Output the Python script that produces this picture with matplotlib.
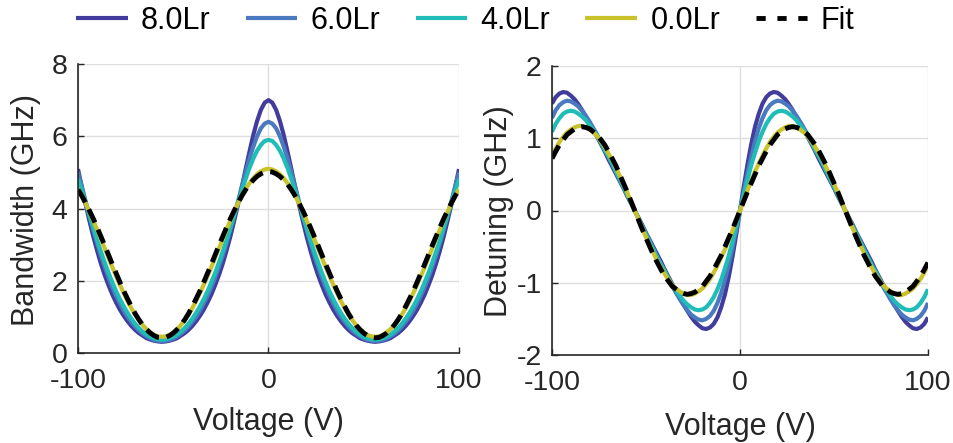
import numpy as np
import matplotlib
matplotlib.use('Agg')
import matplotlib.pyplot as plt
from matplotlib.lines import Line2D

plt.rcParams['font.family'] = ['Liberation Sans', 'DejaVu Sans']
plt.rcParams['axes.unicode_minus'] = False

# voltage sweep (V), -100 .. 100 in 2 V steps
voltage = np.arange(-100, 101, 2)

labels = ['8.0Lr', '6.0Lr', '4.0Lr', '0.0Lr']
colors = ['#423c9c', '#4a79c0', '#1fbdb6', '#c9c22a']

# bandwidth (GHz)
bw_8 = [5.09, 4.59, 4.11, 3.66, 3.23, 2.84, 2.48, 2.16, 1.88, 1.62,
        1.40, 1.20, 1.03, 0.88, 0.75, 0.64, 0.55, 0.48, 0.41, 0.37,
        0.34, 0.32, 0.31, 0.32, 0.34, 0.37, 0.41, 0.48, 0.55, 0.64,
        0.75, 0.88, 1.03, 1.20, 1.40, 1.62, 1.88, 2.16, 2.48, 2.84,
        3.23, 3.66, 4.11, 4.59, 5.09, 5.57, 6.03, 6.42, 6.73, 6.93,
        7.00,
        6.93, 6.73, 6.42, 6.03, 5.57, 5.09, 4.59, 4.11, 3.66, 3.23,
        2.84, 2.48, 2.16, 1.88, 1.62, 1.40, 1.20, 1.03, 0.88, 0.75,
        0.64, 0.55, 0.48, 0.41, 0.37, 0.34, 0.32, 0.31, 0.32, 0.34,
        0.37, 0.41, 0.48, 0.55, 0.64, 0.75, 0.88, 1.03, 1.20, 1.40,
        1.62, 1.88, 2.16, 2.48, 2.84, 3.23, 3.66, 4.11, 4.59, 5.09]
bw_6 = [5.00, 4.61, 4.20, 3.80, 3.42, 3.05, 2.70, 2.39, 2.09, 1.82,
        1.58, 1.37, 1.17, 1.00, 0.86, 0.73, 0.62, 0.53, 0.46, 0.40,
        0.36, 0.34, 0.33, 0.34, 0.36, 0.40, 0.46, 0.53, 0.62, 0.73,
        0.86, 1.00, 1.17, 1.37, 1.58, 1.82, 2.09, 2.39, 2.70, 3.05,
        3.42, 3.80, 4.20, 4.61, 5.00, 5.38, 5.71, 6.00, 6.22, 6.35,
        6.40,
        6.35, 6.22, 6.00, 5.71, 5.38, 5.00, 4.61, 4.20, 3.80, 3.42,
        3.05, 2.70, 2.39, 2.09, 1.82, 1.58, 1.37, 1.17, 1.00, 0.86,
        0.73, 0.62, 0.53, 0.46, 0.40, 0.36, 0.34, 0.33, 0.34, 0.36,
        0.40, 0.46, 0.53, 0.62, 0.73, 0.86, 1.00, 1.17, 1.37, 1.58,
        1.82, 2.09, 2.39, 2.70, 3.05, 3.42, 3.80, 4.20, 4.61, 5.00]
bw_4 = [4.82, 4.49, 4.16, 3.81, 3.47, 3.13, 2.81, 2.51, 2.22, 1.96,
        1.71, 1.49, 1.29, 1.11, 0.95, 0.81, 0.69, 0.59, 0.51, 0.45,
        0.41, 0.38, 0.37, 0.38, 0.41, 0.45, 0.51, 0.59, 0.69, 0.81,
        0.95, 1.11, 1.29, 1.49, 1.71, 1.96, 2.22, 2.51, 2.81, 3.13,
        3.47, 3.81, 4.16, 4.49, 4.82, 5.12, 5.38, 5.60, 5.76, 5.87,
        5.90,
        5.87, 5.76, 5.60, 5.38, 5.12, 4.82, 4.49, 4.16, 3.81, 3.47,
        3.13, 2.81, 2.51, 2.22, 1.96, 1.71, 1.49, 1.29, 1.11, 0.95,
        0.81, 0.69, 0.59, 0.51, 0.45, 0.41, 0.38, 0.37, 0.38, 0.41,
        0.45, 0.51, 0.59, 0.69, 0.81, 0.95, 1.11, 1.29, 1.49, 1.71,
        1.96, 2.22, 2.51, 2.81, 3.13, 3.47, 3.81, 4.16, 4.49, 4.82]
bw_0 = [4.54, 4.35, 4.14, 3.91, 3.67, 3.42, 3.16, 2.90, 2.64, 2.38,
        2.13, 1.89, 1.66, 1.44, 1.24, 1.06, 0.91, 0.77, 0.66, 0.57,
        0.50, 0.46, 0.45, 0.46, 0.50, 0.57, 0.66, 0.77, 0.91, 1.06,
        1.24, 1.44, 1.66, 1.89, 2.13, 2.38, 2.64, 2.90, 3.16, 3.42,
        3.67, 3.91, 4.14, 4.35, 4.54, 4.70, 4.84, 4.95, 5.03, 5.08,
        5.10,
        5.08, 5.03, 4.95, 4.84, 4.70, 4.54, 4.35, 4.14, 3.91, 3.67,
        3.42, 3.16, 2.90, 2.64, 2.38, 2.13, 1.89, 1.66, 1.44, 1.24,
        1.06, 0.91, 0.77, 0.66, 0.57, 0.50, 0.46, 0.45, 0.46, 0.50,
        0.57, 0.66, 0.77, 0.91, 1.06, 1.24, 1.44, 1.66, 1.89, 2.13,
        2.38, 2.64, 2.90, 3.16, 3.42, 3.67, 3.91, 4.14, 4.35, 4.54]
bw_fit = [4.52, 4.35, 4.15, 3.94, 3.72, 3.48, 3.23, 2.98, 2.72, 2.46,
          2.21, 1.96, 1.72, 1.50, 1.29, 1.09, 0.92, 0.77, 0.65, 0.55,
          0.48, 0.43, 0.42, 0.43, 0.48, 0.55, 0.65, 0.77, 0.92, 1.09,
          1.29, 1.50, 1.72, 1.96, 2.21, 2.46, 2.72, 2.98, 3.23, 3.48,
          3.72, 3.94, 4.15, 4.35, 4.52, 4.67, 4.79, 4.89, 4.96, 5.01,
          5.02,
          5.01, 4.96, 4.89, 4.79, 4.67, 4.52, 4.35, 4.15, 3.94, 3.72,
          3.48, 3.23, 2.98, 2.72, 2.46, 2.21, 1.96, 1.72, 1.50, 1.29,
          1.09, 0.92, 0.77, 0.65, 0.55, 0.48, 0.43, 0.42, 0.43, 0.48,
          0.55, 0.65, 0.77, 0.92, 1.09, 1.29, 1.50, 1.72, 1.96, 2.21,
          2.46, 2.72, 2.98, 3.23, 3.48, 3.72, 3.94, 4.15, 4.35, 4.52]

# detuning (GHz)
dt_8 = [1.48, 1.57, 1.62, 1.64, 1.63, 1.59, 1.54, 1.47, 1.39, 1.30,
        1.21, 1.11, 1.02, 0.92, 0.82, 0.71, 0.61, 0.51, 0.41, 0.31,
        0.20, 0.10, 0.00, -0.10, -0.20, -0.31, -0.41, -0.51, -0.61, -0.71,
        -0.82, -0.92, -1.02, -1.11, -1.21, -1.30, -1.39, -1.47, -1.54, -1.59,
        -1.63, -1.64, -1.62, -1.57, -1.48, -1.34, -1.16, -0.92, -0.64, -0.33,
        0.00,
        0.33, 0.64, 0.92, 1.16, 1.34, 1.48, 1.57, 1.62, 1.64, 1.63,
        1.59, 1.54, 1.47, 1.39, 1.30, 1.21, 1.11, 1.02, 0.92, 0.82,
        0.71, 0.61, 0.51, 0.41, 0.31, 0.20, 0.10, 0.00, -0.10, -0.20,
        -0.31, -0.41, -0.51, -0.61, -0.71, -0.82, -0.92, -1.02, -1.11, -1.21,
        -1.30, -1.39, -1.47, -1.54, -1.59, -1.63, -1.64, -1.62, -1.57, -1.48]
dt_6 = [1.28, 1.39, 1.46, 1.50, 1.52, 1.51, 1.48, 1.44, 1.38, 1.31,
        1.23, 1.14, 1.05, 0.95, 0.85, 0.75, 0.65, 0.54, 0.43, 0.33,
        0.22, 0.11, 0.00, -0.11, -0.22, -0.33, -0.43, -0.54, -0.65, -0.75,
        -0.85, -0.95, -1.05, -1.14, -1.23, -1.31, -1.38, -1.44, -1.48, -1.51,
        -1.52, -1.50, -1.46, -1.39, -1.28, -1.14, -0.96, -0.75, -0.52, -0.26,
        0.00,
        0.26, 0.52, 0.75, 0.96, 1.14, 1.28, 1.39, 1.46, 1.50, 1.52,
        1.51, 1.48, 1.44, 1.38, 1.31, 1.23, 1.14, 1.05, 0.95, 0.85,
        0.75, 0.65, 0.54, 0.43, 0.33, 0.22, 0.11, 0.00, -0.11, -0.22,
        -0.33, -0.43, -0.54, -0.65, -0.75, -0.85, -0.95, -1.05, -1.14, -1.23,
        -1.31, -1.38, -1.44, -1.48, -1.51, -1.52, -1.50, -1.46, -1.39, -1.28]
dt_4 = [1.09, 1.20, 1.28, 1.34, 1.37, 1.38, 1.37, 1.34, 1.30, 1.25,
        1.18, 1.11, 1.03, 0.94, 0.84, 0.75, 0.65, 0.54, 0.44, 0.33,
        0.22, 0.11, 0.00, -0.11, -0.22, -0.33, -0.44, -0.54, -0.65, -0.75,
        -0.84, -0.94, -1.03, -1.11, -1.18, -1.25, -1.30, -1.34, -1.37, -1.38,
        -1.37, -1.34, -1.28, -1.20, -1.09, -0.96, -0.80, -0.63, -0.43, -0.22,
        0.00,
        0.22, 0.43, 0.63, 0.80, 0.96, 1.09, 1.20, 1.28, 1.34, 1.37,
        1.38, 1.37, 1.34, 1.30, 1.25, 1.18, 1.11, 1.03, 0.94, 0.84,
        0.75, 0.65, 0.54, 0.44, 0.33, 0.22, 0.11, 0.00, -0.11, -0.22,
        -0.33, -0.44, -0.54, -0.65, -0.75, -0.84, -0.94, -1.03, -1.11, -1.18,
        -1.25, -1.30, -1.34, -1.37, -1.38, -1.37, -1.34, -1.28, -1.20, -1.09]
dt_0 = [0.76, 0.86, 0.95, 1.02, 1.08, 1.12, 1.15, 1.17, 1.17, 1.15,
        1.12, 1.08, 1.03, 0.96, 0.88, 0.79, 0.70, 0.59, 0.48, 0.37,
        0.25, 0.12, 0.00, -0.12, -0.25, -0.37, -0.48, -0.59, -0.70, -0.79,
        -0.88, -0.96, -1.03, -1.08, -1.12, -1.15, -1.17, -1.17, -1.15, -1.12,
        -1.08, -1.02, -0.95, -0.86, -0.76, -0.65, -0.54, -0.41, -0.28, -0.14,
        0.00,
        0.14, 0.28, 0.41, 0.54, 0.65, 0.76, 0.86, 0.95, 1.02, 1.08,
        1.12, 1.15, 1.17, 1.17, 1.15, 1.12, 1.08, 1.03, 0.96, 0.88,
        0.79, 0.70, 0.59, 0.48, 0.37, 0.25, 0.12, 0.00, -0.12, -0.25,
        -0.37, -0.48, -0.59, -0.70, -0.79, -0.88, -0.96, -1.03, -1.08, -1.12,
        -1.15, -1.17, -1.17, -1.15, -1.12, -1.08, -1.02, -0.95, -0.86, -0.76]
dt_fit = [0.72, 0.82, 0.91, 0.98, 1.05, 1.09, 1.13, 1.15, 1.16, 1.15,
          1.13, 1.09, 1.05, 0.98, 0.91, 0.82, 0.72, 0.62, 0.50, 0.38,
          0.26, 0.13, 0.00, -0.13, -0.26, -0.38, -0.50, -0.62, -0.72, -0.82,
          -0.91, -0.98, -1.05, -1.09, -1.13, -1.15, -1.16, -1.15, -1.13, -1.09,
          -1.05, -0.98, -0.91, -0.82, -0.72, -0.62, -0.50, -0.38, -0.26, -0.13,
          0.00,
          0.13, 0.26, 0.38, 0.50, 0.62, 0.72, 0.82, 0.91, 0.98, 1.05,
          1.09, 1.13, 1.15, 1.16, 1.15, 1.13, 1.09, 1.05, 0.98, 0.91,
          0.82, 0.72, 0.62, 0.50, 0.38, 0.26, 0.13, 0.00, -0.13, -0.26,
          -0.38, -0.50, -0.62, -0.72, -0.82, -0.91, -0.98, -1.05, -1.09, -1.13,
          -1.15, -1.16, -1.15, -1.13, -1.09, -1.05, -0.98, -0.91, -0.82, -0.72]

bandwidth = [bw_8, bw_6, bw_4, bw_0]
detuning = [dt_8, dt_6, dt_4, dt_0]

W, H = 954, 443
fig = plt.figure(figsize=(W / 100, H / 100), dpi=100)
axL = fig.add_axes([78 / W, (H - 353) / H, 381 / W, 289 / H])
axR = fig.add_axes([552 / W, (H - 355) / H, 376 / W, 289 / H])

for i in range(4):
    axL.plot(voltage, bandwidth[i], color=colors[i], lw=3.0, solid_capstyle='butt')
    axR.plot(voltage, detuning[i], color=colors[i], lw=3.0, solid_capstyle='butt')
dash = (0, (3.0, 1.6))
axL.plot(voltage, bw_fit, color='k', lw=3.5, ls=dash, dash_capstyle='butt')
axR.plot(voltage, dt_fit, color='k', lw=3.5, ls=dash, dash_capstyle='butt')

axL.set_ylim(0, 8)
axL.set_yticks([0, 2, 4, 6, 8])
axR.set_ylim(-2, 2)
axR.set_yticks([-2, -1, 0, 1, 2])

for ax in (axL, axR):
    ax.set_xlim(-100, 100)
    ax.set_xticks([-100, 0, 100])
    ax.spines[['top', 'right']].set_visible(False)
    for s in ('left', 'bottom'):
        ax.spines[s].set_color('#262626')
        ax.spines[s].set_linewidth(1.2)
    ax.grid(True, color='#dedede', lw=1.0)
    ax.set_axisbelow(True)
    ax.tick_params(direction='in', length=4, width=1, colors='#262626', labelsize=20.5)
    ax.tick_params(axis='x', pad=10.8)
    ax.tick_params(axis='y', pad=7.5)
    ax.set_xlabel('Voltage (V)', fontsize=22, color='#262626')

axL.set_ylabel('Bandwidth (GHz)', fontsize=22, color='#262626')
axR.set_ylabel('Detuning (GHz)', fontsize=22, color='#262626')
axL.xaxis.set_label_coords(0.5, -0.187)
axR.xaxis.set_label_coords(0.5, -0.196)
axL.yaxis.set_label_coords(-0.097, 0.495)
axR.yaxis.set_label_coords(-0.101, 0.498)

# legend handles: the dashed entry uses shorter dashes, as in the original
handles = [Line2D([], [], color=c, lw=3.0, solid_capstyle='butt') for c in colors]
handles.append(Line2D([], [], color='k', lw=3.5, ls=(0, (1.9, 2.4)), dash_capstyle='butt'))
fig.legend(handles, labels + ['Fit'], loc='center', bbox_to_anchor=(465 / W, 1 - 21 / H),
           ncol=5, frameon=False, fontsize=22, handlelength=1.7, handletextpad=0.43,
           columnspacing=1.15, borderpad=0, borderaxespad=0)

fig.savefig('out.png', dpi=100)
